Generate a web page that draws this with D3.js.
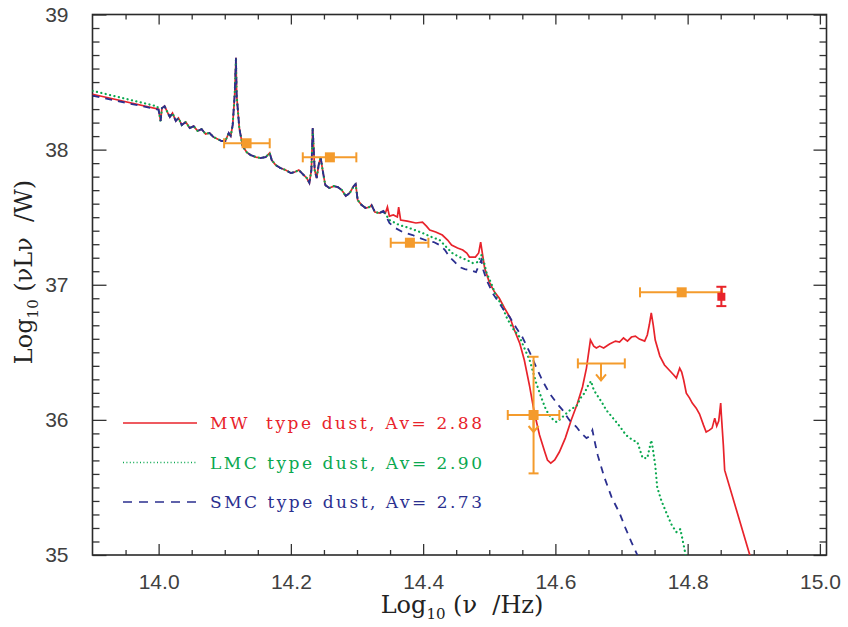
<!DOCTYPE html>
<html>
<head>
<meta charset="utf-8">
<script src="https://cdn.jsdelivr.net/npm/d3@7"></script>
<style>
  body { margin: 0; background: #fff; }
  .tick text { font-family: "Liberation Sans", Arial, sans-serif; font-size: 21px; fill: #404040; }
  .tick line { stroke: #333; stroke-width: 1.3; }
  .title { font-family: "DejaVu Serif", "Liberation Serif", serif; fill: #222; white-space: pre; }
</style>
</head>
<body>
<svg id="chart" width="848" height="627"></svg>
<script>
// model continuum below 14.0 (before the observed spectrum starts)
const mwHead = [[13.9, 38.41], [14.0, 38.30]]
const lmcHead = [[13.9, 38.435], [13.998, 38.32]]
const smcHead = [[13.9, 38.40], [14.0, 38.295]]

// observed near-IR spectrum, shared by all three fits
const observed = [
  [14.000, 38.293], [14.003, 38.212], [14.005, 38.307], [14.009, 38.322], [14.014, 38.270],
  [14.017, 38.241], [14.021, 38.270], [14.026, 38.212], [14.030, 38.234], [14.035, 38.182],
  [14.041, 38.204], [14.047, 38.160], [14.053, 38.174], [14.059, 38.138], [14.065, 38.152],
  [14.071, 38.116], [14.077, 38.123], [14.083, 38.093], [14.089, 38.079], [14.095, 38.064],
  [14.101, 38.064], [14.106, 38.123], [14.109, 38.101], [14.112, 38.182], [14.115, 38.404],
  [14.117, 38.68], [14.118, 38.404], [14.122, 38.160], [14.127, 38.027], [14.133, 37.982],
  [14.139, 37.960], [14.147, 37.945], [14.154, 37.938], [14.162, 37.945], [14.168, 37.975],
  [14.171, 37.923], [14.177, 37.886], [14.184, 37.864], [14.192, 37.849], [14.200, 37.827],
  [14.206, 37.834], [14.212, 37.849], [14.218, 37.819], [14.224, 37.790], [14.228, 37.753],
  [14.231, 37.849], [14.233, 38.16], [14.236, 37.849], [14.239, 37.790], [14.242, 37.886],
  [14.245, 37.945], [14.248, 37.849], [14.252, 37.738], [14.258, 37.716], [14.265, 37.730],
  [14.271, 37.723], [14.277, 37.701], [14.283, 37.657], [14.289, 37.679], [14.295, 37.730],
  [14.298, 37.745], [14.301, 37.627], [14.307, 37.590], [14.313, 37.568], [14.319, 37.575],
  [14.322, 37.590], [14.327, 37.538], [14.334, 37.531], [14.340, 37.546]
]

const mwTail = [
  [14.343, 37.531], [14.346, 37.575], [14.349, 37.508], [14.355, 37.516], [14.361, 37.501],
  [14.363, 37.575], [14.366, 37.479], [14.376, 37.471], [14.389, 37.457], [14.399, 37.464],
  [14.405, 37.434], [14.410, 37.405], [14.419, 37.390], [14.429, 37.368], [14.437, 37.331],
  [14.443, 37.294], [14.452, 37.272], [14.460, 37.257], [14.466, 37.235], [14.470, 37.205],
  [14.479, 37.205], [14.484, 37.235], [14.487, 37.316], [14.490, 37.220], [14.493, 37.124],
  [14.500, 37.020], [14.508, 36.946], [14.515, 36.902], [14.523, 36.828], [14.531, 36.761],
  [14.538, 36.665], [14.546, 36.568], [14.553, 36.443], [14.561, 36.250], [14.568, 36.058],
  [14.576, 35.888], [14.584, 35.762], [14.588, 35.703], [14.593, 35.680], [14.599, 35.703],
  [14.606, 35.762], [14.615, 35.865], [14.624, 35.999], [14.633, 36.117], [14.641, 36.243],
  [14.647, 36.383], [14.653, 36.591], [14.658, 36.546], [14.662, 36.532], [14.667, 36.546],
  [14.673, 36.532], [14.682, 36.561], [14.691, 36.583], [14.697, 36.576], [14.703, 36.606],
  [14.709, 36.583], [14.715, 36.613], [14.721, 36.620], [14.727, 36.598], [14.735, 36.583],
  [14.739, 36.628], [14.742, 36.702], [14.745, 36.791], [14.748, 36.702], [14.751, 36.591],
  [14.758, 36.472], [14.765, 36.406], [14.772, 36.369], [14.779, 36.332], [14.783, 36.309],
  [14.788, 36.383], [14.791, 36.354], [14.794, 36.295], [14.798, 36.198], [14.803, 36.161],
  [14.807, 36.124], [14.813, 36.087], [14.818, 36.043], [14.824, 35.961], [14.828, 35.910],
  [14.833, 35.924], [14.837, 35.939], [14.841, 36.013], [14.844, 35.954], [14.847, 35.991],
  [14.850, 36.124], [14.851, 36.035], [14.854, 35.813], [14.856, 35.628], [14.894, 35.000],
  [14.91, 34.75]
]

const lmcTail = [
  [14.349, 37.479], [14.364, 37.442], [14.379, 37.420], [14.399, 37.383], [14.413, 37.353],
  [14.425, 37.331], [14.435, 37.279], [14.444, 37.235], [14.455, 37.205], [14.466, 37.183],
  [14.475, 37.161], [14.483, 37.168], [14.488, 37.220], [14.492, 37.168], [14.496, 37.087],
  [14.504, 36.998], [14.511, 36.909], [14.519, 36.850], [14.526, 36.761], [14.535, 36.680],
  [14.546, 36.613], [14.553, 36.532], [14.561, 36.443], [14.571, 36.273], [14.579, 36.161],
  [14.586, 36.072], [14.594, 36.013], [14.602, 35.983], [14.609, 36.013], [14.617, 36.050],
  [14.624, 36.080], [14.632, 36.102], [14.638, 36.161], [14.644, 36.198], [14.649, 36.250],
  [14.654, 36.287], [14.658, 36.221], [14.662, 36.191], [14.670, 36.132], [14.677, 36.072],
  [14.686, 36.020], [14.697, 35.954], [14.707, 35.887], [14.717, 35.850], [14.724, 35.835],
  [14.732, 35.717], [14.739, 35.717], [14.745, 35.850], [14.747, 35.798], [14.751, 35.665],
  [14.754, 35.502], [14.760, 35.406], [14.768, 35.310], [14.776, 35.221], [14.783, 35.170],
  [14.789, 35.192], [14.794, 35.073], [14.797, 35.000], [14.803, 34.85]
]

const smcTail = [
  [14.349, 37.457], [14.358, 37.420], [14.369, 37.390], [14.384, 37.368], [14.395, 37.346],
  [14.407, 37.324], [14.416, 37.316], [14.425, 37.294], [14.433, 37.257], [14.440, 37.205],
  [14.448, 37.168], [14.455, 37.131], [14.463, 37.116], [14.470, 37.109], [14.480, 37.094],
  [14.488, 37.183], [14.491, 37.109], [14.496, 37.035], [14.505, 36.939], [14.515, 36.865],
  [14.523, 36.806], [14.531, 36.761], [14.541, 36.680], [14.550, 36.613], [14.561, 36.502],
  [14.571, 36.391], [14.580, 36.295], [14.591, 36.198], [14.602, 36.124], [14.611, 36.072],
  [14.621, 35.999], [14.632, 35.947], [14.639, 35.902], [14.647, 35.865], [14.652, 35.880],
  [14.656, 35.924], [14.659, 35.850], [14.664, 35.739], [14.674, 35.576], [14.685, 35.428],
  [14.697, 35.310], [14.706, 35.199], [14.715, 35.095], [14.724, 35.000], [14.730, 34.93]
]

// broad-band photometry (orange squares), x errors are band widths
const photometry = [
  { x: 14.133, y: 38.047, xlo: 14.099, xhi: 14.168 },
  { x: 14.259, y: 37.943, xlo: 14.218, xhi: 14.299 },
  { x: 14.380, y: 37.311, xlo: 14.351, xhi: 14.408 },
  { x: 14.567, y: 36.036, xlo: 14.528, xhi: 14.606, ylo: 35.604, yhi: 36.467, limit: true },
  { x: 14.791, y: 36.944, xlo: 14.728, xhi: 14.852 }
]
const upperLimits = [{ x: 14.669, y: 36.418, xlo: 14.634, xhi: 14.705 }]
const uvPoints = [{ x: 14.851, y: 36.911, ylo: 36.842, yhi: 36.985 }]

const legendLabels = ['MW  type dust, Av= 2.88', 'LMC type dust, Av= 2.90', 'SMC type dust, Av= 2.73']
const xTickValues = [14.0, 14.2, 14.4, 14.6, 14.8, 15.0]
const yTickValues = [35, 36, 37, 38, 39]

const colors = { mw: '#e8232b', lmc: '#0aa84f', smc: '#2b2f8f', phot: '#f49b2c' }

const svg = d3.select('#chart')
const x = d3.scaleLinear().domain([13.9, 15.01]).range([92.5, 826.5])
const y = d3.scaleLinear().domain([35, 39]).range([555, 14.5])

svg.append('clipPath').attr('id', 'plot-clip')
  .append('rect').attr('x', 92.5).attr('y', 14.5).attr('width', 734).attr('height', 540.5)

// axes: majors + minors on all four sides, ticks pointing inward
const xMinor = d3.range(13.95, 15.0, 0.05).filter(v => Math.abs(v * 5 - Math.round(v * 5)) > 1e-6)
const yMinor = d3.range(35.1, 39, 0.1).filter(v => Math.abs(v - Math.round(v)) > 1e-6)

function axis(gen, tr, values, size, fmt) {
  const g = svg.append('g').attr('transform', tr)
    .call(gen.tickValues(values).tickSize(size).tickSizeOuter(0).tickFormat(fmt))
  g.select('.domain').remove()
  return g
}
const none = () => ''
axis(d3.axisBottom(x).tickPadding(19), 'translate(0,555)', xTickValues, -11, d3.format('.1f'))
axis(d3.axisBottom(x), 'translate(0,555)', xMinor, -5, none)
axis(d3.axisTop(x), 'translate(0,14.5)', xTickValues, -10, none)
axis(d3.axisTop(x), 'translate(0,14.5)', xMinor, -5, none)
axis(d3.axisLeft(y).tickPadding(24), 'translate(92.5,0)', yTickValues, -14, d3.format('d'))
axis(d3.axisLeft(y), 'translate(92.5,0)', yMinor, -7, none)
axis(d3.axisRight(y), 'translate(826.5,0)', yTickValues, -13, none)
axis(d3.axisRight(y), 'translate(826.5,0)', yMinor, -7, none)

svg.append('rect').attr('x', 92.5).attr('y', 14.5).attr('width', 734).attr('height', 540.5)
  .attr('fill', 'none').attr('stroke', '#2a2a2a').attr('stroke-width', 1.6)

// spectra
const line = d3.line().x(d => x(d[0])).y(d => y(d[1]))
const plot = svg.append('g').attr('clip-path', 'url(#plot-clip)')
const series = [
  { data: mwHead.concat(observed, mwTail), color: colors.mw, dash: null, w: 1.7, cap: 'butt' },
  { data: lmcHead.concat(observed, lmcTail), color: colors.lmc, dash: '0.1,4.4', w: 2.2, cap: 'round' },
  { data: smcHead.concat(observed, smcTail), color: colors.smc, dash: '7,6', w: 1.8, cap: 'butt' }
]
series.forEach(s => {
  plot.append('path').datum(s.data)
    .attr('d', line).attr('fill', 'none')
    .attr('stroke', s.color).attr('stroke-width', s.w)
    .attr('stroke-dasharray', s.dash)
    .attr('stroke-linecap', s.cap)
})

// photometry with error bars
const eb = svg.append('g').attr('stroke', colors.phot).attr('stroke-width', 2).attr('fill', 'none')
function hbar(g, d) {
  g.append('line').attr('x1', x(d.xlo)).attr('x2', x(d.xhi)).attr('y1', y(d.y)).attr('y2', y(d.y))
  ;[d.xlo, d.xhi].forEach(v => g.append('line').attr('x1', x(v)).attr('x2', x(v))
    .attr('y1', y(d.y) - 5).attr('y2', y(d.y) + 5))
}
function vbar(g, d) {
  g.append('line').attr('x1', x(d.x)).attr('x2', x(d.x)).attr('y1', y(d.ylo)).attr('y2', y(d.yhi))
  ;[d.ylo, d.yhi].forEach(v => g.append('line').attr('y1', y(v)).attr('y2', y(v))
    .attr('x1', x(d.x) - 5).attr('x2', x(d.x) + 5))
}
function arrow(g, d) {
  const cx = x(d.x), cy = y(d.y), tip = cy + 17
  g.append('line').attr('x1', cx).attr('x2', cx).attr('y1', cy).attr('y2', tip)
  g.append('path').attr('d', `M${cx - 5},${tip - 6}L${cx},${tip}L${cx + 5},${tip - 6}`)
}
photometry.forEach(d => {
  hbar(eb, d)
  if (d.ylo !== undefined) vbar(eb, d)
  if (d.limit) arrow(eb, d)
})
upperLimits.forEach(d => { hbar(eb, d); arrow(eb, d) })
svg.append('g').selectAll('rect').data(photometry).join('rect')
  .attr('x', d => x(d.x) - 5).attr('y', d => y(d.y) - 5)
  .attr('width', 10).attr('height', 10).attr('fill', colors.phot)

const uv = svg.append('g').attr('stroke', colors.mw).attr('stroke-width', 2)
uvPoints.forEach(d => vbar(uv, d))
svg.append('g').selectAll('rect').data(uvPoints).join('rect')
  .attr('x', d => x(d.x) - 4).attr('y', d => y(d.y) - 4)
  .attr('width', 8).attr('height', 8).attr('fill', colors.mw)

// legend
const leg = svg.append('g')
series.forEach((s, i) => {
  const ly = 423 + i * 39.5
  leg.append('line').attr('x1', 123).attr('x2', 197).attr('y1', ly).attr('y2', ly)
    .attr('stroke', s.color).attr('stroke-width', i === 1 ? 1.6 : 1.4)
    .attr('stroke-dasharray', i === 1 ? '1,2.4' : i === 2 ? '9,7' : null)
  leg.append('text').attr('x', 210).attr('y', ly + 6)
    .attr('textLength', 272).attr('lengthAdjust', 'spacing')
    .attr('class', 'title').style('font-size', '17px').style('fill', s.color)
    .text(legendLabels[i])
})

// axis titles
const xt = svg.append('text').attr('class', 'title').attr('x', 462).attr('y', 613)
  .attr('text-anchor', 'middle').style('font-size', '24px')
xt.append('tspan').text('Log')
xt.append('tspan').attr('dy', 6).style('font-size', '15px').text('10')
xt.append('tspan').attr('dy', -6).text(' (\u03bd  /Hz)')

const yt = svg.append('text').attr('class', 'title')
  .attr('transform', 'translate(32,272) rotate(-90)')
  .attr('text-anchor', 'middle').style('font-size', '24px')
yt.append('tspan').text('Log')
yt.append('tspan').attr('dy', 6).style('font-size', '15px').text('10')
yt.append('tspan').attr('dy', -6).text(' (\u03bdL\u03bd  /W)')
</script>
</body>
</html>
